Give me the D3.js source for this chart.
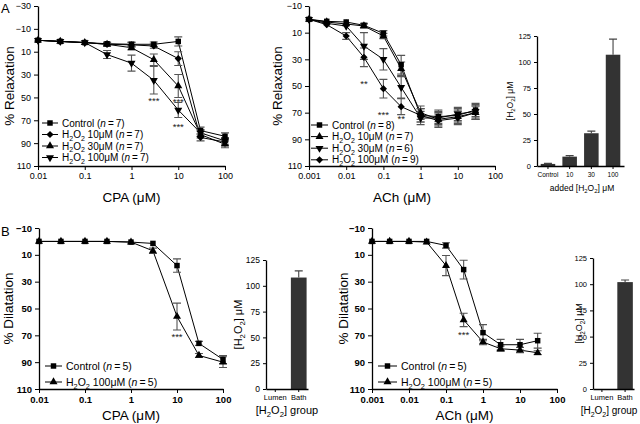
<!DOCTYPE html>
<html lang="en">
<head>
<meta charset="utf-8">
<style>
  body { margin: 0; background: #fff; }
  svg { font-family: "Liberation Sans", Arial, sans-serif; }
</style>
</head>
<body>
<svg id="fig" width="640" height="424"></svg>
<script src="https://d3js.org/d3.v7.min.js"></script>
<script>
// ---- data ----
var cpaConc = [0.01, 0.03, 0.1, 0.3, 1, 3, 10, 30, 100];
var achConc = [0.001, 0.003, 0.01, 0.03, 0.1, 0.3, 1, 3, 10, 30];
var cpaTicks = [0.01, 0.1, 1, 10, 100];
var achTicks = [0.001, 0.01, 0.1, 1, 10, 100];
var relaxTicksA = [-30, -10, 10, 30, 50, 70, 90, 110];
var pctTicks = [-10, 10, 30, 50, 70, 90, 110];
var h2o2Ticks = [0, 25, 50, 75, 100, 125];

// A, CPA relaxation
var aCpaControl = [0, 1, 2, 3, 3.5, 3.5, 1, 79, 84];
var aCpaControlSem = [1, 1, 1, 1.5, 2, 2, 4, 3, 3];
var aCpa10 = [0, 1, 2, 3.5, 4, 5, 16, 85, 89];
var aCpa10Sem = [1, 1, 1, 1.5, 2, 2, 6, 3, 3];
var aCpa30 = [0, 1, 2, 3.5, 6.5, 17, 40, 82.5, 91];
var aCpa30Sem = [1, 1, 1, 1.5, 2, 5, 10, 3, 3];
var aCpa100 = [0, 1, 2, 12.5, 20, 35, 61, 81, 88];
var aCpa100Sem = [1, 1, 1, 3.5, 7, 12, 6.5, 3, 3];
var aCpaStars = [[3, 51, "***"], [10, 52, "***"], [10, 74, "***"]];

// A, ACh relaxation
var aAchControl = [0, 1.5, 2, 4.5, 10.5, 34, 72, 73, 72, 68];
var aAchControlSem = [1, 1, 1, 1.5, 2, 7, 5, 5, 5, 5];
var aAch10 = [0, 2, 3.5, 5, 12.5, 37, 70, 75, 73, 70];
var aAch10Sem = [1, 1, 1, 1.5, 2, 5, 5, 5, 5, 5];
var aAch30 = [0, 3, 5, 20, 30, 51, 74, 74, 71, 69];
var aAch30Sem = [1, 1, 1, 10, 8, 8, 5, 5, 5, 5];
var aAch100 = [0, 4, 12.5, 28.5, 52, 65.5, 72, 76, 74, 70];
var aAch100Sem = [1, 1, 2.5, 7, 7, 6, 5, 5, 5, 5];
var aAchStars = [[0.03, 47, "**"], [0.1, 70, "***"], [0.3, 73, "**"]];

// A, added H2O2
var addedCats = ["Control", "10", "30", "100"];
var addedVals = [2, 9, 31.5, 107];
var addedSem = [0.5, 1, 2, 15];

// B, CPA dilatation
var bCpaControl = [0, 0, 0, 0, 0.5, 1.5, 18, 76, 88];
var bCpaControlSem = [1, 1, 1, 1, 1, 1, 5, 1.5, 3];
var bCpaH2O2 = [0, 0, 0, 0, 0.5, 7, 56, 85, 90];
var bCpaH2O2Sem = [1, 1, 1, 1, 1, 2, 10, 1.5, 4];
var bCpaStars = [[10, 70, "***"]];

// B, ACh dilatation
var bAchControl = [0, 0, 0, 0, 3, 21, 68, 77, 77, 74];
var bAchControlSem = [1, 1, 1, 1, 2, 7, 6, 4, 4, 5.5];
var bAchH2O2 = [0, 0, 0, 0.5, 18, 58.5, 75, 80, 81, 83];
var bAchH2O2Sem = [1, 1, 1, 1, 7.5, 5, 2, 2, 2, 1.5];
var bAchStars = [[0.3, 68, "***"]];

// B, measured H2O2
var groupCats = ["Lumen", "Bath"];
var groupCpaVals = [0, 108];
var groupCpaSem = [0, 6.5];
var groupAchVals = [0, 102];
var groupAchSem = [0, 2];

var svg = d3.select("#fig");

// text with _2 subscripts and *italic*, fs = font size in px
function rich(sel, str, fs) {
  var down = false;
  str.split(/(_\d|\*[^*]+\*)/).forEach(function(p) {
    if (!p) return;
    var t;
    if (p[0] === "_") {
      t = sel.append("tspan").attr("font-size", fs * 0.7).text(p.slice(1));
      if (!down) t.attr("dy", fs * 0.28);
      down = true;
      return;
    }
    if (p[0] === "*") t = sel.append("tspan").attr("font-style", "italic").text(p.slice(1, -1));
    else t = sel.append("tspan").text(p);
    if (down) t.attr("dy", -fs * 0.28);
    down = false;
  });
  return sel;
}

function marker(g, kind, px, py) {
  var type = kind === "square" || kind === "diamond" ? d3.symbolSquare : d3.symbolTriangle;
  var size = kind === "square" ? 30 : kind === "diamond" ? 26 : 28;
  var rot = kind === "diamond" ? 45 : kind === "down" ? 180 : 0;
  g.append("path")
    .attr("d", d3.symbol().type(type).size(size)())
    .attr("transform", "translate(" + px + "," + py + ") rotate(" + rot + ")")
    .attr("fill", "#000");
}

function styleAxis(ax, size, weight) {
  ax.attr("font-family", null).attr("font-size", size).attr("font-weight", weight);
  ax.select(".domain").attr("stroke-width", 1.3);
  ax.selectAll(".tick line").attr("stroke-width", 1);
}

function linePanel(o) {
  var g = svg.append("g");
  var x = d3.scaleLog().domain(o.xDomain).range([o.left, o.right]);
  var y = d3.scaleLinear().domain(o.yDomain).range([o.top, o.bottom]);

  var xa = g.append("g").attr("transform", "translate(0," + o.bottom + ")")
    .call(d3.axisBottom(x).tickValues(o.xTicks).tickFormat(d3.format("~g")).tickSize(4).tickSizeOuter(0));
  styleAxis(xa, o.tickFont, o.tickWeight);
  var ya = g.append("g").attr("transform", "translate(" + o.left + ",0)")
    .call(d3.axisLeft(y).tickValues(o.yTicks).tickSize(4).tickSizeOuter(0));
  styleAxis(ya, o.tickFont, o.tickWeight);

  g.append("text").attr("transform", "translate(" + o.yTitleX + "," + (o.top + o.bottom) / 2 + ") rotate(-90)")
    .attr("text-anchor", "middle").attr("dy", "0.35em").attr("font-size", 13.5).text(o.yTitle);
  g.append("text").attr("x", (o.left + o.right) / 2).attr("y", o.xTitleY)
    .attr("text-anchor", "middle").attr("dy", "0.35em").attr("font-size", 13.5).text(o.xTitle);

  var line = d3.line().x(function(d) { return x(d.c); }).y(function(d) { return y(d.v); });
  var all = o.series.map(function(s) {
    return o.conc.map(function(c, i) { return { c: c, v: s.values[i], e: s.sem[i] }; });
  });
  all.forEach(function(pts) {
    g.append("path").datum(pts).attr("d", line).attr("fill", "none").attr("stroke", "#000").attr("stroke-width", 1);
  });
  all.forEach(function(pts) {
    pts.forEach(function(d) {
      if (d.e <= 1) return;
      var px = x(d.c), y0 = y(d.v - d.e), y1 = y(d.v + d.e);
      g.append("path")
        .attr("d", "M" + px + "," + y0 + "V" + y1 + "M" + (px - 4) + "," + y0 + "H" + (px + 4) + "M" + (px - 4) + "," + y1 + "H" + (px + 4))
        .attr("stroke", "#555").attr("stroke-width", 1.1).attr("fill", "none");
    });
  });
  all.forEach(function(pts, k) {
    pts.forEach(function(d) { marker(g, o.series[k].symbol, x(d.c), y(d.v)); });
  });

  o.stars.forEach(function(s) {
    g.append("text").attr("x", x(s[0])).attr("y", y(s[1]) + 5).attr("text-anchor", "middle")
      .attr("font-size", 9.5).attr("fill", "#222").text(s[2]);
  });

  o.series.forEach(function(s, i) {
    var ly = o.legend.y + i * o.legend.dy;
    g.append("line").attr("x1", o.legend.x).attr("x2", o.legend.x + o.legend.w)
      .attr("y1", ly).attr("y2", ly).attr("stroke", "#000").attr("stroke-width", 1);
    marker(g, s.symbol, o.legend.x + o.legend.w / 2, ly);
    rich(g.append("text").attr("x", o.legend.x + o.legend.w + 4).attr("y", ly + 3.6)
      .attr("font-size", o.legend.fs), s.name, o.legend.fs);
  });
}

function barPanel(o) {
  var g = svg.append("g");
  var x = d3.scaleBand().domain(o.cats).range([o.left, o.right]).paddingInner(0.33).paddingOuter(o.padOuter);
  var y = d3.scaleLinear().domain([0, 125]).range([o.bottom, o.top]);

  g.selectAll("rect.bar").data(o.vals).enter().append("rect")
    .attr("x", function(d, i) { return x(o.cats[i]); })
    .attr("width", x.bandwidth())
    .attr("y", function(d) { return y(d); })
    .attr("height", function(d) { return y(0) - y(d); })
    .attr("fill", "#333");
  o.vals.forEach(function(v, i) {
    if (!o.sem[i]) return;
    var px = x(o.cats[i]) + x.bandwidth() / 2, y0 = y(v), y1 = y(v + o.sem[i]);
    g.append("path").attr("d", "M" + px + "," + y0 + "V" + y1 + "M" + (px - 4) + "," + y1 + "H" + (px + 4))
      .attr("stroke", "#444").attr("stroke-width", 1.1).attr("fill", "none");
  });

  var xa = g.append("g").attr("transform", "translate(0," + o.bottom + ")")
    .call(d3.axisBottom(x).tickSize(3).tickSizeOuter(0));
  styleAxis(xa, o.catFont, "normal");
  var ya = g.append("g").attr("transform", "translate(" + o.left + ",0)")
    .call(d3.axisLeft(y).tickValues(h2o2Ticks).tickSize(3).tickSizeOuter(0));
  styleAxis(ya, o.tickFont, "normal");

  rich(g.append("text").attr("transform", "translate(" + o.yTitleX + "," + (o.top + o.bottom) / 2 + ") rotate(-90)")
    .attr("text-anchor", "middle").attr("font-size", o.titleFont), "[H_2O_2] μM", o.titleFont);
  rich(g.append("text").attr("x", o.xTitleX).attr("y", o.xTitleY).attr("text-anchor", "middle")
    .attr("font-size", o.xTitleFont), o.xTitle, o.xTitleFont);
}

// panel letters
svg.append("text").attr("x", 1).attr("y", 13).attr("font-size", 13).text("A");
svg.append("text").attr("x", 1).attr("y", 236).attr("font-size", 13).text("B");

linePanel({
  left: 38, right: 225, top: 6, bottom: 166,
  xDomain: [0.01, 100], xTicks: cpaTicks, yDomain: [-30, 110], yTicks: relaxTicksA,
  conc: cpaConc, tickFont: 9, tickWeight: "normal",
  yTitle: "% Relaxation", yTitleX: 9, xTitle: "CPA (μM)", xTitleY: 197,
  series: [
    { name: "Control (*n*\u2009=\u20097)", values: aCpaControl, sem: aCpaControlSem, symbol: "square" },
    { name: "H_2O_2 10μM (*n*\u2009=\u20097)", values: aCpa10, sem: aCpa10Sem, symbol: "diamond" },
    { name: "H_2O_2 30μM (*n*\u2009=\u20097)", values: aCpa30, sem: aCpa30Sem, symbol: "up" },
    { name: "H_2O_2 100μM (*n*\u2009=\u20097)", values: aCpa100, sem: aCpa100Sem, symbol: "down" }
  ],
  legend: { x: 42, y: 123, dy: 11.5, w: 16, fs: 10 },
  stars: aCpaStars
});

linePanel({
  left: 309, right: 495, top: 6, bottom: 166,
  xDomain: [0.001, 100], xTicks: achTicks, yDomain: [-10, 110], yTicks: pctTicks,
  conc: achConc, tickFont: 9, tickWeight: "normal",
  yTitle: "% Relaxation", yTitleX: 277, xTitle: "ACh (μM)", xTitleY: 197,
  series: [
    { name: "Control (*n*\u2009=\u20098)", values: aAchControl, sem: aAchControlSem, symbol: "square" },
    { name: "H_2O_2 10μM (*n*\u2009=\u20097)", values: aAch10, sem: aAch10Sem, symbol: "up" },
    { name: "H_2O_2 30μM (*n*\u2009=\u20096)", values: aAch30, sem: aAch30Sem, symbol: "down" },
    { name: "H_2O_2 100μM (*n*\u2009=\u20099)", values: aAch100, sem: aAch100Sem, symbol: "diamond" }
  ],
  legend: { x: 311, y: 125, dy: 11.6, w: 17, fs: 10 },
  stars: aAchStars
});

barPanel({
  cats: addedCats, vals: addedVals, sem: addedSem,
  left: 537, right: 624, padOuter: 0.17, top: 36, bottom: 166,
  catFont: 6.5, tickFont: 7.5, titleFont: 8.5, yTitleX: 513,
  xTitle: "added [H_2O_2] μM", xTitleX: 582, xTitleY: 191, xTitleFont: 8.5
});

linePanel({
  left: 39, right: 223, top: 228, bottom: 389,
  xDomain: [0.01, 100], xTicks: cpaTicks, yDomain: [-10, 110], yTicks: pctTicks,
  conc: cpaConc, tickFont: 9.5, tickWeight: "bold",
  yTitle: "% Dilatation", yTitleX: 8, xTitle: "CPA (μM)", xTitleY: 415,
  series: [
    { name: "Control (*n*\u2009=\u20095)", values: bCpaControl, sem: bCpaControlSem, symbol: "square" },
    { name: "H_2O_2 100μM (*n*\u2009=\u20095)", values: bCpaH2O2, sem: bCpaH2O2Sem, symbol: "up" }
  ],
  legend: { x: 45, y: 366, dy: 16, w: 17, fs: 10.5 },
  stars: bCpaStars
});

barPanel({
  cats: groupCats, vals: groupCpaVals, sem: groupCpaSem,
  left: 266, right: 308, padOuter: 0.06, top: 260, bottom: 389,
  catFont: 7.5, tickFont: 8.5, titleFont: 11, yTitleX: 242,
  xTitle: "[H_2O_2] group", xTitleX: 287, xTitleY: 414, xTitleFont: 11
});

linePanel({
  left: 372, right: 557, top: 228, bottom: 389,
  xDomain: [0.001, 100], xTicks: achTicks, yDomain: [-10, 110], yTicks: pctTicks,
  conc: achConc, tickFont: 9.5, tickWeight: "bold",
  yTitle: "% Dilatation", yTitleX: 343, xTitle: "ACh (μM)", xTitleY: 415,
  series: [
    { name: "Control (*n*\u2009=\u20095)", values: bAchControl, sem: bAchControlSem, symbol: "square" },
    { name: "H_2O_2 100μM (*n*\u2009=\u20095)", values: bAchH2O2, sem: bAchH2O2Sem, symbol: "up" }
  ],
  legend: { x: 378, y: 366, dy: 16, w: 19, fs: 10.5 },
  stars: bAchStars
});

barPanel({
  cats: groupCats, vals: groupAchVals, sem: groupAchSem,
  left: 593, right: 634, padOuter: 0.05, top: 258, bottom: 389,
  catFont: 7.5, tickFont: 7.5, titleFont: 9, yTitleX: 582,
  xTitle: "[H_2O_2] group", xTitleX: 609, xTitleY: 414, xTitleFont: 10
});
</script>
</body>
</html>
